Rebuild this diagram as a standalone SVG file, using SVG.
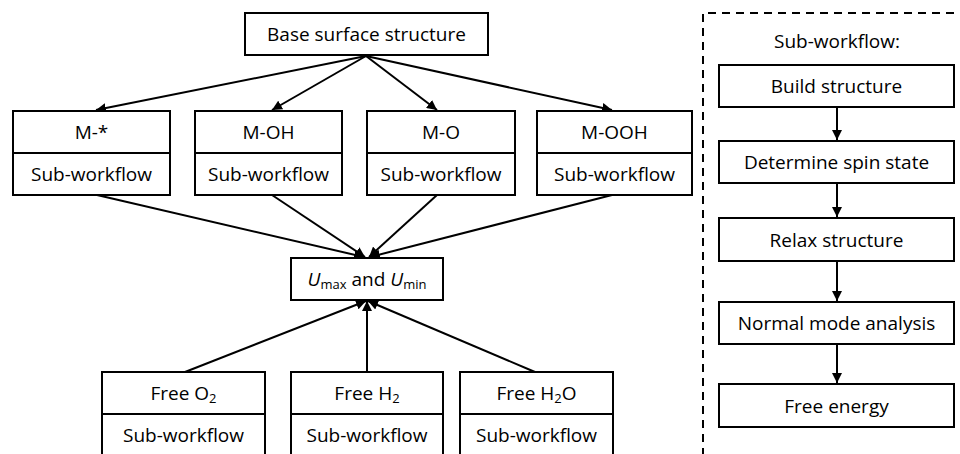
<svg xmlns="http://www.w3.org/2000/svg" width="960" height="454" viewBox="0 0 960 454">
<defs>
<marker id="ah" viewBox="0 0 10 10" refX="10" refY="5" markerWidth="5" markerHeight="5" orient="auto" markerUnits="strokeWidth">
<path d="M0,0 L10,5 L0,10 Z" fill="#000"/>
</marker>
<style>
.box{fill:#fff;stroke:#000;stroke-width:2}
.t{font-family:"Open Sans","Liberation Sans",sans-serif;font-size:19px;fill:#000;text-anchor:middle;dominant-baseline:central}
.c{stroke:#000;stroke-width:2;fill:none;marker-end:url(#ah)}
.sub{font-size:13px}
</style>
</defs>
<rect width="960" height="454" fill="#fff"/>
<g id="connectors">
<line class="c" x1="366" y1="56" x2="96" y2="110"/>
<line class="c" x1="366" y1="56" x2="272" y2="110"/>
<line class="c" x1="366" y1="56" x2="437" y2="110"/>
<line class="c" x1="366" y1="56" x2="612" y2="110"/>
<line class="c" x1="97" y1="195" x2="364" y2="257"/>
<line class="c" x1="272" y1="195" x2="365" y2="257"/>
<line class="c" x1="437" y1="195" x2="369" y2="257"/>
<line class="c" x1="612" y1="195" x2="370" y2="257"/>
<line class="c" x1="185" y1="372" x2="366" y2="301"/>
<line class="c" x1="367" y1="372" x2="367" y2="301"/>
<line class="c" x1="535" y1="372" x2="368" y2="301"/>
<line class="c" x1="837" y1="107" x2="837" y2="140"/>
<line class="c" x1="837" y1="183" x2="837" y2="217"/>
<line class="c" x1="837" y1="261" x2="837" y2="301"/>
<line class="c" x1="837" y1="344" x2="837" y2="383"/>
</g>
<g id="base"><rect class="box" x="245" y="13" width="243" height="42"/><text class="t" x="366.5" y="34">Base surface structure</text></g>
<g id="m-star"><rect class="box" x="13" y="111" width="157" height="84"/><line x1="13" y1="153" x2="170" y2="153" stroke="#000" stroke-width="2"/><text class="t" x="91.5" y="132">M-*</text><text class="t" x="91.5" y="174">Sub-workflow</text></g>
<g id="m-oh"><rect class="box" x="195" y="111" width="147" height="84"/><line x1="195" y1="153" x2="342" y2="153" stroke="#000" stroke-width="2"/><text class="t" x="268.5" y="132">M-OH</text><text class="t" x="268.5" y="174">Sub-workflow</text></g>
<g id="m-o"><rect class="box" x="367" y="111" width="148" height="84"/><line x1="367" y1="153" x2="515" y2="153" stroke="#000" stroke-width="2"/><text class="t" x="441" y="132">M-O</text><text class="t" x="441" y="174">Sub-workflow</text></g>
<g id="m-ooh"><rect class="box" x="537" y="111" width="155" height="84"/><line x1="537" y1="153" x2="692" y2="153" stroke="#000" stroke-width="2"/><text class="t" x="614.5" y="132">M-OOH</text><text class="t" x="614.5" y="174">Sub-workflow</text></g>
<g id="umaxmin"><rect class="box" x="291" y="258" width="152" height="42"/><text class="t" x="367" y="279"><tspan font-style="italic">U</tspan><tspan class="sub" dy="5">max</tspan><tspan dy="-5"> and </tspan><tspan font-style="italic">U</tspan><tspan class="sub" dy="5">min</tspan></text></g>
<g id="free-o2"><rect class="box" x="102" y="372" width="163" height="100"/><line x1="102" y1="414" x2="265" y2="414" stroke="#000" stroke-width="2"/><text class="t" x="183.5" y="393">Free O<tspan class="sub" dy="5">2</tspan></text><text class="t" x="183.5" y="435">Sub-workflow</text></g>
<g id="free-h2"><rect class="box" x="291" y="372" width="152" height="100"/><line x1="291" y1="414" x2="443" y2="414" stroke="#000" stroke-width="2"/><text class="t" x="367" y="393">Free H<tspan class="sub" dy="5">2</tspan></text><text class="t" x="367" y="435">Sub-workflow</text></g>
<g id="free-h2o"><rect class="box" x="460" y="372" width="153" height="100"/><line x1="460" y1="414" x2="613" y2="414" stroke="#000" stroke-width="2"/><text class="t" x="536.5" y="393">Free H<tspan class="sub" dy="5">2</tspan><tspan dy="-5">O</tspan></text><text class="t" x="536.5" y="435">Sub-workflow</text></g>
<g id="subworkflow-panel">
<path d="M703,470 L703,13 L962,13" fill="none" stroke="#000" stroke-width="2" stroke-dasharray="8,6"/>
<text class="t" x="837" y="41">Sub-workflow:</text>
</g>
<g id="build"><rect class="box" x="719" y="65" width="235" height="42"/><text class="t" x="836.5" y="86">Build structure</text></g>
<g id="spin"><rect class="box" x="719" y="141" width="235" height="42"/><text class="t" x="836.5" y="162">Determine spin state</text></g>
<g id="relax"><rect class="box" x="719" y="218" width="235" height="43"/><text class="t" x="836.5" y="240">Relax structure</text></g>
<g id="nma"><rect class="box" x="719" y="302" width="235" height="42"/><text class="t" x="836.5" y="323">Normal mode analysis</text></g>
<g id="energy"><rect class="box" x="719" y="384" width="235" height="43"/><text class="t" x="836.5" y="406">Free energy</text></g>
</svg>
